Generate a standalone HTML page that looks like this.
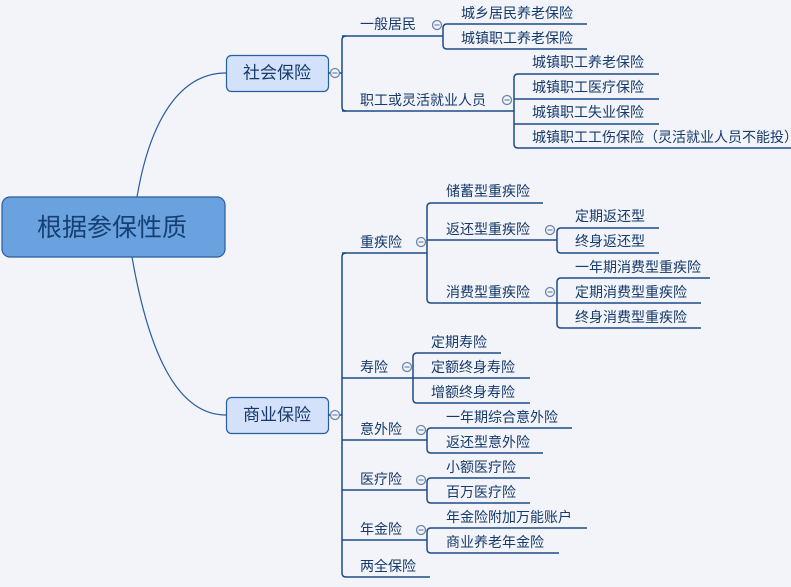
<!DOCTYPE html>
<html><head><meta charset="utf-8"><style>
html,body{margin:0;padding:0;background:#f2f4f9;}
svg{display:block;}
text{font-family:"Liberation Sans","Noto Sans CJK SC",sans-serif;font-size:14px;fill:#163a6b;dominant-baseline:central;}
.l{stroke:#1d4b87;stroke-width:1.5;fill:none;}
.c{stroke:#6a86ad;stroke-width:1.3;fill:#f2f4f9;}
.m{stroke:#6a86ad;stroke-width:1.2;}
</style></head><body>
<svg width="791" height="587" viewBox="0 0 791 587" xmlns="http://www.w3.org/2000/svg">
<path d="M137 197 C150 120 180 73 226 73" stroke="#2a5d9c" stroke-width="1.2" fill="none"/>
<path d="M132 257 C150 360 180 415 226 415" stroke="#2a5d9c" stroke-width="1.2" fill="none"/>
<rect x="2" y="197" width="223" height="60" rx="8" fill="#69a2df" stroke="#2a5d9c" stroke-width="1.2"/>
<text x="112" y="228" text-anchor="middle" style="font-size:25px;fill:#173f72">根据参保性质</text>
<rect x="226.5" y="55.5" width="102" height="36" rx="5" fill="#d3e1fb" stroke="#2a5d9c" stroke-width="1.2"/>
<text x="277" y="73" text-anchor="middle" style="font-size:17px">社会保险</text>
<rect x="226.5" y="397.5" width="102" height="36" rx="5" fill="#d3e1fb" stroke="#2a5d9c" stroke-width="1.2"/>
<text x="277" y="415" text-anchor="middle" style="font-size:17px">商业保险</text>

<line x1="328" y1="73" x2="342" y2="73" class="l"/>
<path class="l" d="M346 36 Q342 36 342 40 L342 107 Q342 111 346 111"/>
<line x1="342" y1="36" x2="443" y2="36" class="l"/>
<line x1="342" y1="111" x2="514" y2="111" class="l"/>
<text x="360" y="24">一般居民</text>
<text x="360" y="100">职工或灵活就业人员</text>
<path class="l" d="M447 24 Q443 24 443 28 L443 45 Q443 49 447 49"/>
<line x1="447" y1="24" x2="587" y2="24" class="l"/>
<line x1="447" y1="49" x2="587" y2="49" class="l"/>
<text x="461" y="13">城乡居民养老保险</text>
<text x="461" y="38">城镇职工养老保险</text>
<path class="l" d="M518 74 Q514 74 514 78 L514 144 Q514 148 518 148"/>
<line x1="518" y1="74" x2="659" y2="74" class="l"/>
<line x1="514" y1="99" x2="659" y2="99" class="l"/>
<line x1="514" y1="124" x2="659" y2="124" class="l"/>
<line x1="518" y1="148" x2="791" y2="148" class="l"/>
<text x="532" y="62">城镇职工养老保险</text>
<text x="532" y="87">城镇职工医疗保险</text>
<text x="532" y="112">城镇职工失业保险</text>
<text x="532" y="137">城镇职工工伤保险（灵活就业人员不能投）</text>

<line x1="328" y1="415" x2="342" y2="415" class="l"/>
<path class="l" d="M346 253 Q342 253 342 257 L342 573 Q342 577 346 577"/>
<line x1="342" y1="253" x2="427" y2="253" class="l"/>
<line x1="342" y1="378" x2="413" y2="378" class="l"/>
<line x1="342" y1="440" x2="427" y2="440" class="l"/>
<line x1="342" y1="490" x2="427" y2="490" class="l"/>
<line x1="342" y1="540" x2="427" y2="540" class="l"/>
<line x1="346" y1="577" x2="430" y2="577" class="l"/>
<text x="360" y="242">重疾险</text>
<text x="360" y="367">寿险</text>
<text x="360" y="429">意外险</text>
<text x="360" y="479">医疗险</text>
<text x="360" y="529">年金险</text>
<text x="360" y="566">两全保险</text>

<path class="l" d="M431 203 Q427 203 427 207 L427 299 Q427 303 431 303"/>
<line x1="431" y1="203" x2="543" y2="203" class="l"/>
<line x1="427" y1="240" x2="557" y2="240" class="l"/>
<line x1="431" y1="303" x2="557" y2="303" class="l"/>
<text x="446" y="191">储蓄型重疾险</text>
<text x="446" y="229">返还型重疾险</text>
<text x="446" y="292">消费型重疾险</text>
<path class="l" d="M561 228 Q557 228 557 232 L557 249 Q557 253 561 253"/>
<line x1="561" y1="228" x2="659" y2="228" class="l"/>
<line x1="561" y1="253" x2="659" y2="253" class="l"/>
<text x="575" y="216">定期返还型</text>
<text x="575" y="241">终身返还型</text>
<path class="l" d="M561 278 Q557 278 557 282 L557 324 Q557 328 561 328"/>
<line x1="561" y1="278" x2="710" y2="278" class="l"/>
<line x1="557" y1="303" x2="701" y2="303" class="l"/>
<line x1="561" y1="328" x2="701" y2="328" class="l"/>
<text x="575" y="267">一年期消费型重疾险</text>
<text x="575" y="292">定期消费型重疾险</text>
<text x="575" y="317">终身消费型重疾险</text>

<path class="l" d="M417 353 Q413 353 413 357 L413 399 Q413 403 417 403"/>
<line x1="417" y1="353" x2="501" y2="353" class="l"/>
<line x1="413" y1="378" x2="530" y2="378" class="l"/>
<line x1="417" y1="403" x2="530" y2="403" class="l"/>
<text x="431" y="342">定期寿险</text>
<text x="431" y="367">定额终身寿险</text>
<text x="431" y="392">增额终身寿险</text>

<path class="l" d="M431 428 Q427 428 427 432 L427 449 Q427 453 431 453"/>
<line x1="431" y1="428" x2="572" y2="428" class="l"/>
<line x1="431" y1="453" x2="543" y2="453" class="l"/>
<text x="446" y="417">一年期综合意外险</text>
<text x="446" y="442">返还型意外险</text>

<path class="l" d="M431 478 Q427 478 427 482 L427 499 Q427 503 431 503"/>
<line x1="431" y1="478" x2="530" y2="478" class="l"/>
<line x1="431" y1="503" x2="530" y2="503" class="l"/>
<text x="446" y="467">小额医疗险</text>
<text x="446" y="492">百万医疗险</text>

<path class="l" d="M431 528 Q427 528 427 532 L427 549 Q427 553 431 553"/>
<line x1="431" y1="528" x2="587" y2="528" class="l"/>
<line x1="431" y1="553" x2="559" y2="553" class="l"/>
<text x="446" y="517">年金险附加万能账户</text>
<text x="446" y="542">商业养老年金险</text>

<g>
<circle cx="335" cy="73" r="4.5" class="c"/><line x1="332.5" y1="73" x2="337.5" y2="73" class="m"/>
<circle cx="335" cy="415" r="4.5" class="c"/><line x1="332.5" y1="415" x2="337.5" y2="415" class="m"/>
<circle cx="437" cy="25" r="4.5" class="c"/><line x1="434.5" y1="25" x2="439.5" y2="25" class="m"/>
<circle cx="507" cy="100" r="4.5" class="c"/><line x1="504.5" y1="100" x2="509.5" y2="100" class="m"/>
<circle cx="421" cy="242" r="4.5" class="c"/><line x1="418.5" y1="242" x2="423.5" y2="242" class="m"/>
<circle cx="550" cy="230" r="4.5" class="c"/><line x1="547.5" y1="230" x2="552.5" y2="230" class="m"/>
<circle cx="550" cy="292" r="4.5" class="c"/><line x1="547.5" y1="292" x2="552.5" y2="292" class="m"/>
<circle cx="407" cy="367" r="4.5" class="c"/><line x1="404.5" y1="367" x2="409.5" y2="367" class="m"/>
<circle cx="421" cy="430" r="4.5" class="c"/><line x1="418.5" y1="430" x2="423.5" y2="430" class="m"/>
<circle cx="421" cy="480" r="4.5" class="c"/><line x1="418.5" y1="480" x2="423.5" y2="480" class="m"/>
<circle cx="421" cy="530" r="4.5" class="c"/><line x1="418.5" y1="530" x2="423.5" y2="530" class="m"/>
</g>
</svg>
</body></html>
